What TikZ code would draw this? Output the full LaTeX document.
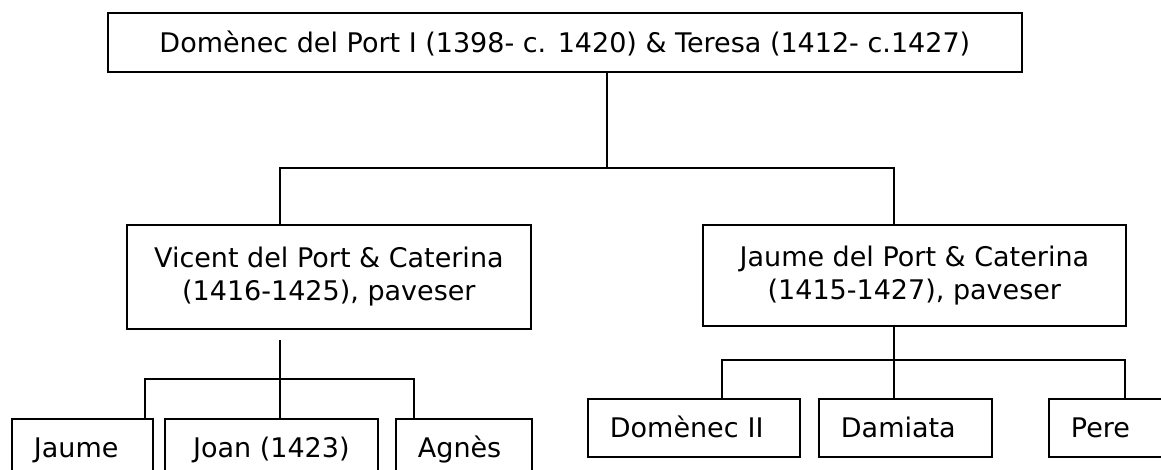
\documentclass[tikz,border=0pt]{standalone}
\usepackage{fontspec}
\setmainfont{DejaVu Sans}
\begin{document}
\begin{tikzpicture}[x=1pt,y=-1pt,line width=1.8pt,
  box/.style={draw=black, rectangle, inner sep=0pt, anchor=north west,
    font=\fontsize{27}{33}\selectfont},
  one/.style={box, text height=19.7pt, text depth=0pt},
  two/.style={box, align=center},
  leftbox/.style={one, inner xsep=22pt, align=left, text width=#1-44pt, minimum height=58pt},
  conn/.style={draw=black, line width=1.8pt}]
  \path[use as bounding box, clip] (0,0) rectangle (1161,470);
  \fill[white] (0,0) rectangle (1161,470);

  % top generation
  \node[one, minimum width=914pt, minimum height=59pt] (top) at (107,12)
    {Domènec del Port I (1398- c. 1420) \& Teresa (1412- c.1427)};

  % second generation
  \node[two, minimum width=404pt, minimum height=104pt] (vic) at (126,224)
    {Vicent del Port \& Caterina\\(1416-1425), paveser};
  \node[two, minimum width=423pt, minimum height=101pt] (jau) at (702,224)
    {Jaume del Port \& Caterina\\(1415-1427), paveser};

  % children of Vicent
  \node[leftbox=141pt] (jaumeS) at (11,418) {Jaume};
  \node[one, minimum width=213pt, minimum height=58pt] (joan) at (164,418) {Joan (1423)};
  \node[leftbox=136pt] (agnes) at (395,418) {Agnès};

  % children of Jaume
  \node[leftbox=212pt] (dom) at (587,398) {Domènec II};
  \node[leftbox=173pt] (dam) at (818,398) {Damiata};
  \node[leftbox=160pt] (pere) at (1048,398) {Pere};

  % connectors
  \coordinate (ja) at (607,168);
  \coordinate (jl) at (280,168);
  \coordinate (jr) at (894,168);
  \draw[conn] (top.south -| ja) -- (ja);
  \draw[conn] (vic.north -| jl) -- (jl) -- (jr) -- (jau.north -| jr);

  \coordinate (vs) at (280,340);
  \coordinate (kl) at (145,379);
  \coordinate (kr) at (414,379);
  \draw[conn] (vs) -- (joan.north -| vs);
  \draw[conn] (jaumeS.north -| kl) -- (kl) -- (kr) -- (agnes.north -| kr);

  \coordinate (ml) at (722,360);
  \coordinate (mr) at (1125,360);
  \draw[conn] (jau.south -| jr) -- (dam.north -| jr);
  \draw[conn] (dom.north -| ml) -- (ml) -- (mr) -- (pere.north -| mr);
\end{tikzpicture}
\end{document}
